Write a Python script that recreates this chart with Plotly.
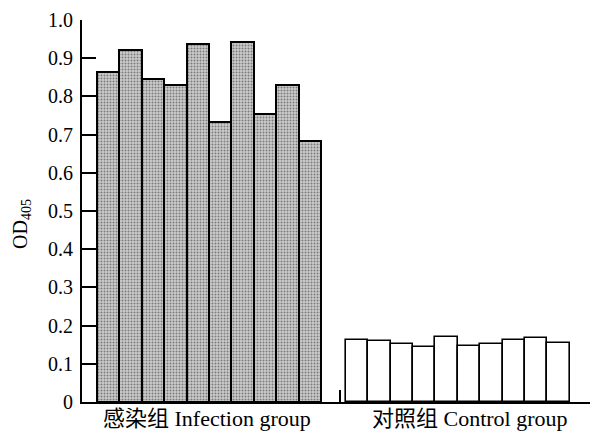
import plotly.graph_objects as go

# Data
infection_values = [0.865, 0.921, 0.846, 0.831, 0.938, 0.732, 0.942, 0.754, 0.831, 0.684]
control_values = [0.163, 0.160, 0.152, 0.143, 0.171, 0.147, 0.152, 0.162, 0.168, 0.155]
group_labels = ["感染组 Infection group", "对照组 Control group"]
y_ticks = [0, 0.1, 0.2, 0.3, 0.4, 0.5, 0.6, 0.7, 0.8, 0.9, 1.0]
y_tick_text = ["0", "0.1", "0.2", "0.3", "0.4", "0.5", "0.6", "0.7", "0.8", "0.9", "1.0"]

# Layout positions (index-based)
group_gap = 11.1
x_inf = [i for i in range(len(infection_values))]
x_ctl = [group_gap + i for i in range(len(control_values))]

FONT = "Liberation Serif, 'Noto Sans CJK SC', serif"
W, H = 594, 432
ML, MR, MT, MB = 82, 4, 20, 30
PW, PH = W - ML - MR, H - MT - MB

def px_x(px):
    return (px - ML) / PW

def px_y(py):
    return (H - MB - py) / PH

fig = go.Figure()
fig.add_trace(go.Bar(
    x=x_inf, y=infection_values, width=1.0,
    marker=dict(color="#c4c4c4", line=dict(color="black", width=2),
                pattern=dict(shape=".", fgcolor="#2a2a2a", bgcolor="#cccccc", size=3, solidity=0.35)),
    showlegend=False,
))
fig.add_trace(go.Bar(
    x=x_ctl, y=control_values, width=1.0,
    marker=dict(color="white", line=dict(color="black", width=1.6)),
    showlegend=False,
))

fig.update_layout(
    width=W, height=H,
    margin=dict(l=ML, r=MR, t=MT, b=MB, autoexpand=False),
    paper_bgcolor="white", plot_bgcolor="white",
    font=dict(family=FONT, color="black", size=20),
    bargap=0,
    xaxis=dict(
        range=[-1.17, 21.5],
        showline=True, linecolor="black", linewidth=2,
        showgrid=False, zeroline=False,
        showticklabels=False,
        ticks="",
        minor=dict(tickmode="array", tickvals=[10.35], ticks="inside", ticklen=12,
                   tickwidth=2, tickcolor="black", showgrid=False),
        automargin=False,
    ),
    yaxis=dict(
        range=[0, 1.0],
        showline=True, linecolor="black", linewidth=2,
        showgrid=False, zeroline=False,
        tickmode="array", tickvals=y_ticks, ticktext=y_tick_text,
        ticks="inside", ticklen=14, tickwidth=2, tickcolor="black",
        tickfont=dict(size=20, family=FONT),
        ticklabelstandoff=3,
        automargin=False,
    ),
    annotations=[
        dict(text="OD<sub>405</sub>", x=px_x(21), y=px_y(224), xref="paper", yref="paper",
             showarrow=False, textangle=-90, xanchor="center", yanchor="middle",
             font=dict(size=20, family=FONT)),
        dict(text=group_labels[0], x=px_x(207), y=px_y(418), xref="paper", yref="paper",
             showarrow=False, xanchor="center", yanchor="middle",
             font=dict(size=22, family=FONT)),
        dict(text=group_labels[1], x=px_x(470), y=px_y(418), xref="paper", yref="paper",
             showarrow=False, xanchor="center", yanchor="middle",
             font=dict(size=22, family=FONT)),
    ],
)

fig.write_html("out.html", config={"displayModeBar": False},
               post_script="document.body.style.margin='0';document.body.style.padding='0';")
